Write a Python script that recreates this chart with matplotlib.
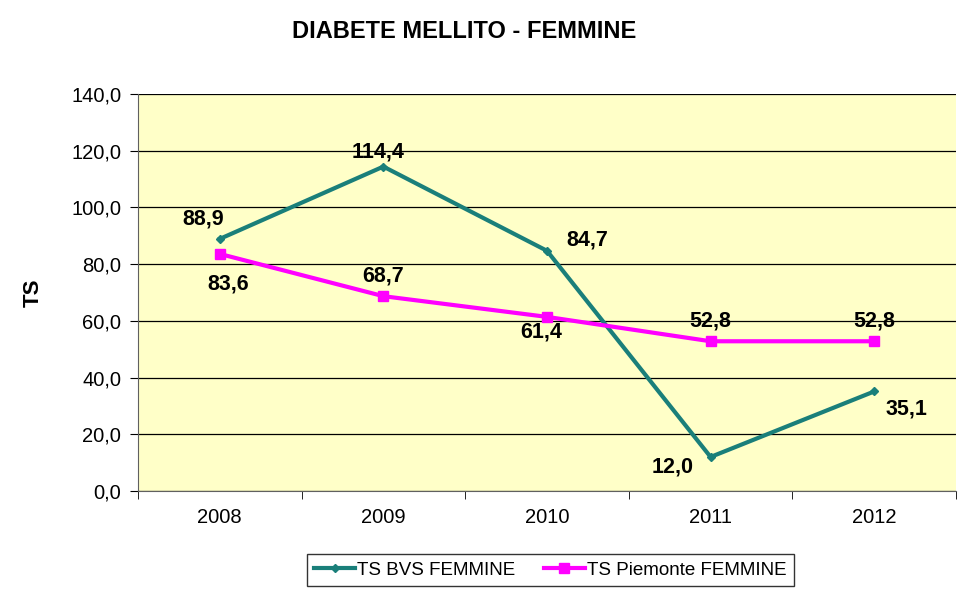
import numpy as np
import matplotlib.pyplot as plt

plt.rcParams['font.family'] = ['Liberation Sans', 'DejaVu Sans']

years = ['2008', '2009', '2010', '2011', '2012']
bvs = [88.9, 114.4, 84.7, 12.0, 35.1]
piemonte = [83.6, 68.7, 61.4, 52.8, 52.8]

# label offsets in points (dx, dy, ha, va)
bvs_off = [(3, 7, 'right', 'bottom'), (-4, 3, 'center', 'bottom'),
           (14, 0, 'left', 'bottom'), (-12, 0, 'right', 'top'),
           (8, -5, 'left', 'top')]
pie_off = [(6, -14, 'center', 'top'), (0, 7, 'center', 'bottom'),
           (-4, -3, 'center', 'top'), (0, 7, 'center', 'bottom'),
           (0, 7, 'center', 'bottom')]

fig = plt.figure(figsize=(9.67, 5.90), dpi=100)
ax = fig.add_axes([0.1427, 0.1678, 0.8459, 0.6729])
ax.set_facecolor('#FFFFC8')

x = np.arange(len(years))
ax.plot(x, bvs, color='#1A7F7A', lw=3, marker='D', ms=4, label='TS BVS FEMMINE')
ax.plot(x, piemonte, color='#FF00FF', lw=3, marker='s', ms=7, label='TS Piemonte FEMMINE')

def fmt(v):
    return f'{v:.1f}'.replace('.', ',')

for xs, vals, offs in [(x, bvs, bvs_off), (x, piemonte, pie_off)]:
    for xi, v, (dx, dy, ha, va) in zip(xs, vals, offs):
        ax.annotate(fmt(v), (xi, v), xytext=(dx, dy), textcoords='offset points',
                    ha=ha, va=va, fontsize=15.5, fontweight='bold')

ax.set_xlim(-0.5, 4.5)
ax.set_ylim(0, 140)
ax.set_yticks(np.arange(0, 141, 20))
ax.set_yticklabels([fmt(v) for v in np.arange(0, 141, 20)], fontsize=14.5)
ax.set_xticks(x)
ax.set_xticklabels(years, fontsize=14.5)
ax.set_xticks(np.arange(-0.5, 4.6, 1), minor=True)
ax.tick_params(axis='x', which='major', length=0, pad=12)
ax.tick_params(axis='x', which='minor', length=6, direction='out')
ax.tick_params(axis='y', length=6, direction='out', pad=6)
ax.grid(axis='y', color='black', lw=0.9)
ax.set_axisbelow(True)
for s in ['top', 'right']:
    ax.spines[s].set_visible(False)
for s in ['left', 'bottom']:
    ax.spines[s].set_color('#606060')

ax.set_ylabel('TS', fontsize=16, fontweight='bold', labelpad=20)
fig.suptitle('DIABETE MELLITO - FEMMINE', x=0.48, y=0.966, fontsize=17, fontweight='bold')

leg = fig.legend(loc='center', bbox_to_anchor=(0.569, 0.034),
                 ncol=2, fontsize=13.5, frameon=True, fancybox=False,
                 edgecolor='black', handlelength=2.2, handletextpad=0.1,
                 columnspacing=1.5, borderpad=0.4)
leg.get_frame().set_linewidth(1)

fig.savefig('out.png', dpi=100)
